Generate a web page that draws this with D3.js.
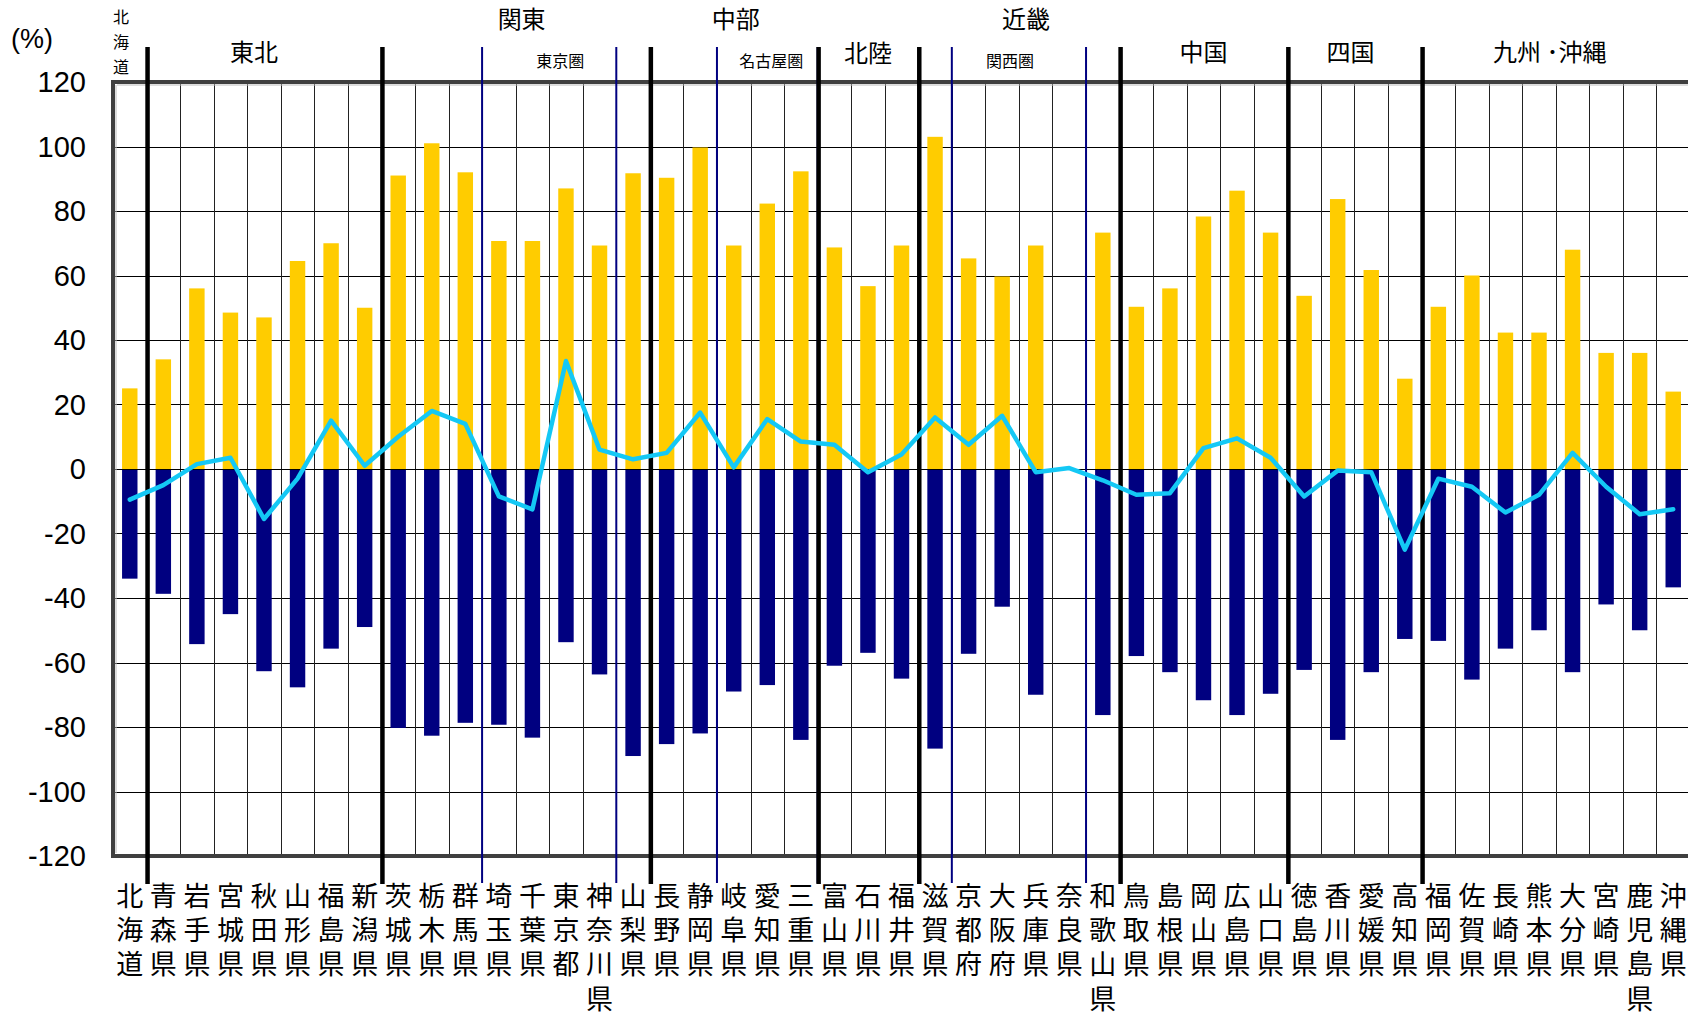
<!DOCTYPE html>
<html><head><meta charset="utf-8">
<script src="https://cdn.jsdelivr.net/npm/d3@7"></script>
<style>body{margin:0;background:#fff} svg{display:block}</style>
</head><body><svg id="c" width="1688" height="1013"></svg>
<script>
const prefectures = ["北海道","青森県","岩手県","宮城県","秋田県","山形県","福島県","新潟県","茨城県","栃木県","群馬県","埼玉県","千葉県","東京都","神奈川県","山梨県","長野県","静岡県","岐阜県","愛知県","三重県","富山県","石川県","福井県","滋賀県","京都府","大阪府","兵庫県","奈良県","和歌山県","鳥取県","島根県","岡山県","広島県","山口県","徳島県","香川県","愛媛県","高知県","福岡県","佐賀県","長崎県","熊本県","大分県","宮崎県","鹿児島県","沖縄県"];
const inflow  = [25,34,56,48.5,47,64.5,70,50,91,101,92,70.7,70.7,87,69.3,91.7,90.3,99.7,69.3,82.3,92.3,68.7,56.7,69.3,103,65.3,59.7,69.3,null,73.3,50.3,56,78.3,86.3,73.3,53.7,83.7,61.7,28,50.3,60,42.3,42.3,68,36,36,24];
const outflow = [-34,-38.7,-54.3,-45,-62.7,-67.7,-55.7,-49,-80.3,-82.7,-78.7,-79.3,-83.3,-53.7,-63.7,-89,-85.3,-82,-69,-67,-84,-61,-57,-65,-86.7,-57.3,-42.7,-70,null,-76.3,-58,-63,-71.7,-76.3,-69.7,-62.3,-84,-63,-52.7,-53.3,-65.3,-55.7,-50,-63,-42,-50,-36.7];
const net     = [-9.5,-5,1.5,3.5,-15.5,-3,15,1,10,18,14,-8.5,-12.5,33.5,6,3,5,17.5,0.5,15.5,8.5,7.5,-1,4.5,16,7.5,16.5,-1,0.3,-3.5,-8,-7.5,6.5,9.5,3.5,-8.5,-0.5,-1,-25,-3,-5.5,-13.5,-8,5,-5.5,-14,-12.5];
const yTicks = [120,100,80,60,40,20,0,-20,-40,-60,-80,-100,-120];
const regionNames = ["東北","関東","中部","北陸","近畿","中国","四国","九州 ･沖縄"];
const regionFirst = ["青森県","茨城県","長野県","富山県","滋賀県","鳥取県","徳島県","福岡県"];
const regionLast  = ["新潟県","山梨県","三重県","福井県","和歌山県","山口県","高知県","沖縄県"];
const metroNames = ["東京圏","名古屋圏","関西圏"];
const metroFirst = ["埼玉県","岐阜県","京都府"];
const metroLast  = ["神奈川県","三重県","奈良県"];

const svg = d3.select("#c");
const L = 113, R = 1690, T = 82, B = 856;
const x = d3.scaleBand().domain(prefectures).range([L, R]).padding(0);
const y = d3.scaleLinear().domain([-120, 120]).range([B, T]);
const bw = x.bandwidth();
const barW = bw * 0.46;
const cx = p => x(p) + bw / 2;
const NUM = "'Liberation Sans', Arial, sans-serif";
const CJK = "'Noto Sans CJK JP', sans-serif";

// horizontal gridlines
svg.append("g").selectAll("line").data(yTicks.filter(v => Math.abs(v) < 120)).join("line")
  .attr("x1", L).attr("x2", 1688).attr("y1", d => Math.round(y(d)) + 0.5).attr("y2", d => Math.round(y(d)) + 0.5)
  .attr("stroke", "#000").attr("stroke-width", 1);

// vertical thin gridlines
svg.append("g").selectAll("line").data(prefectures.slice(1)).join("line")
  .attr("x1", d => Math.round(x(d)) + 0.5).attr("x2", d => Math.round(x(d)) + 0.5)
  .attr("y1", T).attr("y2", B).attr("stroke", "#222").attr("stroke-width", 1);

// bars
const idx = prefectures.map((p, i) => i);
svg.append("g").selectAll("rect").data(idx.filter(i => inflow[i] != null)).join("rect")
  .attr("x", i => x(prefectures[i]) + (bw - barW) / 2).attr("width", barW)
  .attr("y", i => y(inflow[i])).attr("height", i => y(0) - y(inflow[i]))
  .attr("fill", "#FFCC00");
svg.append("g").selectAll("rect").data(idx.filter(i => outflow[i] != null)).join("rect")
  .attr("x", i => x(prefectures[i]) + (bw - barW) / 2).attr("width", barW)
  .attr("y", y(0)).attr("height", i => y(outflow[i]) - y(0))
  .attr("fill", "#000080");

// zero line
svg.append("line").attr("x1", L).attr("x2", 1688).attr("y1", Math.round(y(0)) + 0.5).attr("y2", Math.round(y(0)) + 0.5)
  .attr("stroke", "#000").attr("stroke-width", 1.2);

// frame
svg.append("line").attr("x1", L - 2).attr("x2", 1688).attr("y1", T).attr("y2", T).attr("stroke", "#3f3f3f").attr("stroke-width", 4);
svg.append("line").attr("x1", L - 2).attr("x2", 1688).attr("y1", B).attr("y2", B).attr("stroke", "#3f3f3f").attr("stroke-width", 4);
svg.append("line").attr("x1", L).attr("x2", L).attr("y1", T - 2).attr("y2", B + 2).attr("stroke", "#3f3f3f").attr("stroke-width", 4);
svg.append("line").attr("x1", L + 4).attr("x2", 1688).attr("y1", T + 3).attr("y2", T + 3).attr("stroke", "#bbb").attr("stroke-width", 1);
svg.append("line").attr("x1", L + 3).attr("x2", L + 3).attr("y1", T + 3).attr("y2", B - 3).attr("stroke", "#bbb").attr("stroke-width", 1);

// metro boundary lines (blue)
const metroX = [];
metroFirst.forEach((p, i) => { metroX.push(x(p)); metroX.push(x(metroLast[i]) + bw); });
svg.append("g").selectAll("line").data(metroX).join("line")
  .attr("x1", d => d).attr("x2", d => d).attr("y1", 47).attr("y2", 883)
  .attr("stroke", "#000080").attr("stroke-width", 2);

// region boundary lines (thick black)
svg.append("g").selectAll("line").data(regionFirst).join("line")
  .attr("x1", d => x(d) + 1).attr("x2", d => x(d) + 1).attr("y1", 47).attr("y2", 884)
  .attr("stroke", "#000").attr("stroke-width", 4.5);

// net line
svg.append("path").datum(idx)
  .attr("d", d3.line().x(i => cx(prefectures[i])).y(i => y(net[i])))
  .attr("fill", "none").attr("stroke", "#14C8F5").attr("stroke-width", 4.5)
  .attr("stroke-linejoin", "round").attr("stroke-linecap", "round");

// y tick labels
svg.append("g").selectAll("text").data(yTicks).join("text")
  .attr("x", 86).attr("y", d => y(d)).attr("dy", "0.36em")
  .attr("text-anchor", "end").attr("font-family", NUM).attr("font-size", 29)
  .text(d => d);
svg.append("text").attr("x", 32).attr("y", 38).attr("dy", "0.36em").attr("text-anchor", "middle")
  .attr("font-family", NUM).attr("font-size", 27).text("(%)");

// prefecture labels (vertical characters, one text per prefecture)
const pg = svg.append("g").attr("font-family", CJK).attr("font-size", 27).attr("text-anchor", "middle");
prefectures.forEach(p => {
  const t = pg.append("text").attr("x", cx(p)).attr("y", 896).attr("dy", "0.36em");
  Array.from(p).forEach((ch, k) => {
    t.append("tspan").attr("x", cx(p)).attr("dy", k === 0 ? "0.36em" : 34.3).text(ch);
  });
});

// Hokkaido small vertical label
const hk = svg.append("text").attr("font-family", CJK).attr("font-size", 16).attr("text-anchor", "middle")
  .attr("x", 121).attr("y", 17);
Array.from("北海道").forEach((ch, k) => hk.append("tspan").attr("x", 121).attr("dy", k === 0 ? "0.36em" : 25).text(ch));

// region labels
const regionDx = [-10, 6, 2, 0, 7, 0, -4, -6];
const regionY  = [52, 19, 19, 53, 19, 52, 52, 52];
const rg = svg.append("g").attr("font-family", CJK).attr("font-size", 24).attr("text-anchor", "middle");
regionNames.forEach((n, i) => {
  const mid = (x(regionFirst[i]) + x(regionLast[i]) + bw) / 2;
  rg.append("text").attr("x", mid + regionDx[i]).attr("y", regionY[i]).attr("dy", "0.36em").text(n);
});
const metroDx = [11, 4, -9];
const mg = svg.append("g").attr("font-family", CJK).attr("font-size", 16).attr("text-anchor", "middle");
metroNames.forEach((n, i) => {
  const mid = (x(metroFirst[i]) + x(metroLast[i]) + bw) / 2;
  mg.append("text").attr("x", mid + metroDx[i]).attr("y", 61).attr("dy", "0.36em").text(n);
});
</script></body></html>
